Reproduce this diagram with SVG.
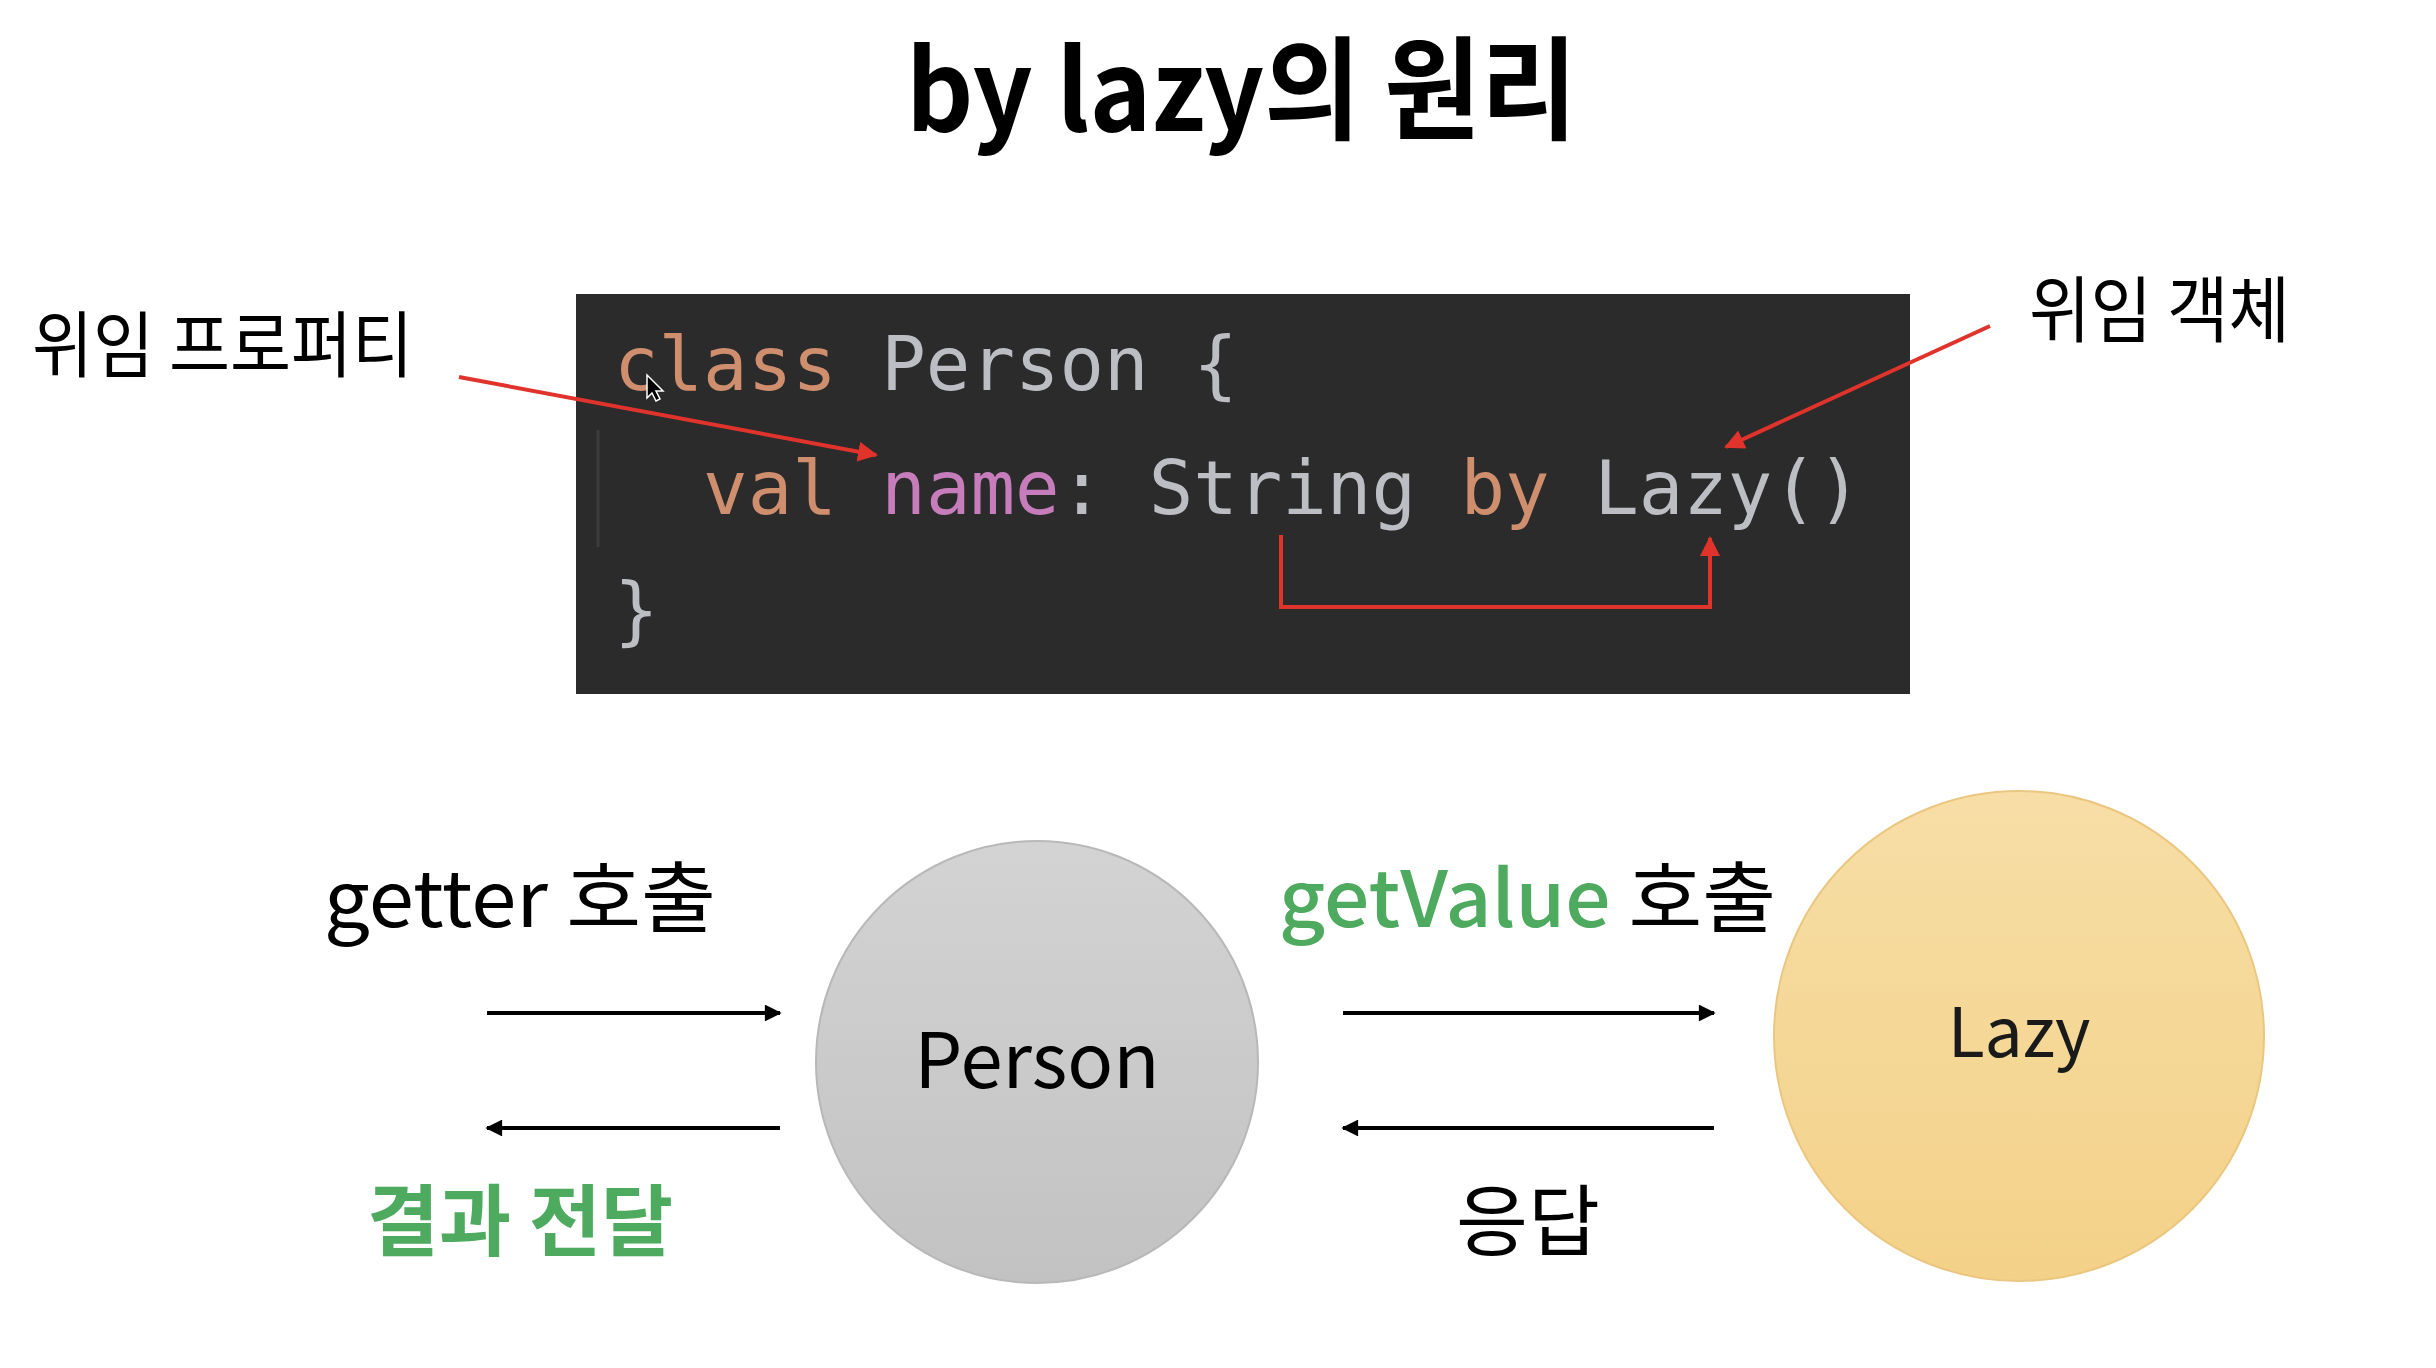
<svg xmlns="http://www.w3.org/2000/svg" width="2436" height="1368" viewBox="0 0 2436 1368">
<defs>
<style>
.kr{font-family:"Noto Sans CJK KR","Noto Sans",sans-serif;}
.code{font-family:"DejaVu Sans Mono","Liberation Mono",monospace;font-size:74px;}
.kw{fill:#CF8E6D;}
.tx{fill:#BCBEC4;}
.pr{fill:#C77DBB;}
.red{stroke:#E0332C;stroke-width:4;fill:none;}
.blk{stroke:#000;stroke-width:4;fill:none;}
.green{fill:#4DAA5E;}
</style>
<marker id="rh" viewBox="0 0 10 10" refX="9" refY="5" markerWidth="5" markerHeight="5" markerUnits="strokeWidth" orient="auto">
<path d="M0,0 L10,5 L0,10 z" fill="#E0332C"/>
</marker>
<marker id="bh" viewBox="0 0 10 10" refX="9" refY="5" markerWidth="4.6" markerHeight="4.2" markerUnits="strokeWidth" orient="auto">
<path d="M0,0 L10,5 L0,10 z" fill="#000"/>
</marker>
<linearGradient id="gp" x1="0" y1="0" x2="0" y2="1">
<stop offset="0" stop-color="#D3D3D3"/>
<stop offset="1" stop-color="#C2C2C2"/>
</linearGradient>
<linearGradient id="gl" x1="0" y1="0" x2="0" y2="1">
<stop offset="0" stop-color="#F7DEA6"/>
<stop offset="1" stop-color="#F3D188"/>
</linearGradient>
</defs>
<rect width="2436" height="1368" fill="#FFFFFF"/>

<text class="kr" x="906" y="131" font-size="112" font-weight="700" textLength="671" lengthAdjust="spacingAndGlyphs" fill="#000">by lazy의 원리</text>

<g id="code">
<rect x="576" y="294" width="1334" height="400" fill="#2B2B2B"/>
<line x1="598" y1="430" x2="598" y2="547" stroke="#3C3C3C" stroke-width="3"/>
<text class="code" x="614" y="390" xml:space="preserve"><tspan class="kw">class</tspan><tspan class="tx"> Person {</tspan></text>
<text class="code" x="614" y="514" xml:space="preserve"><tspan class="tx">  </tspan><tspan class="kw">val</tspan><tspan class="tx"> </tspan><tspan class="pr">name</tspan><tspan class="tx">: String </tspan><tspan class="kw">by</tspan><tspan class="tx"> Lazy()</tspan></text>
<text class="code tx" x="614" y="636">}</text>
<path d="M647,375 L647,398 L652,393 L656,401 L660,399 L656,391 L663,391 z" fill="#000" stroke="#fff" stroke-width="1.5"/>
</g>

<g id="label-property">
<text class="kr" x="32" y="371" font-size="72" textLength="381" lengthAdjust="spacingAndGlyphs" fill="#000">위임 프로퍼티</text>
</g>
<g id="label-object">
<text class="kr" x="2029" y="336" font-size="72" textLength="261" lengthAdjust="spacingAndGlyphs" fill="#000">위임 객체</text>
</g>

<g id="person">
<circle cx="1037" cy="1062" r="221" fill="url(#gp)" stroke="#B8B8B8" stroke-width="2"/>
<text class="kr" x="1037" y="1088" font-size="76" text-anchor="middle" fill="#000">Person</text>
</g>

<g id="lazy">
<circle cx="2019" cy="1036" r="245" fill="url(#gl)" stroke="#EBC680" stroke-width="2"/>
<text class="kr" x="2019" y="1057" font-size="68" text-anchor="middle" fill="#1A1A1A">Lazy</text>
</g>

<g id="labels">
<text class="kr" x="324" y="927" font-size="78" textLength="392" lengthAdjust="spacingAndGlyphs" fill="#000">getter 호출</text>
<text class="kr" x="1279" y="927" font-size="78" textLength="497" lengthAdjust="spacingAndGlyphs" fill="#000"><tspan class="green" font-weight="500">getValue</tspan> 호출</text>
<text class="kr green" x="367" y="1250" font-size="78" font-weight="700" textLength="306" lengthAdjust="spacingAndGlyphs">결과 전달</text>
<text class="kr" x="1456" y="1250" font-size="78" textLength="144" lengthAdjust="spacingAndGlyphs" fill="#000">응답</text>
</g>

<g id="connectors">
<line class="red" x1="459" y1="377" x2="876" y2="455" marker-end="url(#rh)"/>
<line class="red" x1="1990" y1="326" x2="1726" y2="447" marker-end="url(#rh)"/>
<path class="red" d="M1281,535 V607 H1710 V538" marker-end="url(#rh)"/>
<line class="blk" x1="487" y1="1013" x2="780" y2="1013" marker-end="url(#bh)"/>
<line class="blk" x1="780" y1="1128" x2="487" y2="1128" marker-end="url(#bh)"/>
<line class="blk" x1="1343" y1="1013" x2="1714" y2="1013" marker-end="url(#bh)"/>
<line class="blk" x1="1714" y1="1128" x2="1343" y2="1128" marker-end="url(#bh)"/>
</g>
</svg>
